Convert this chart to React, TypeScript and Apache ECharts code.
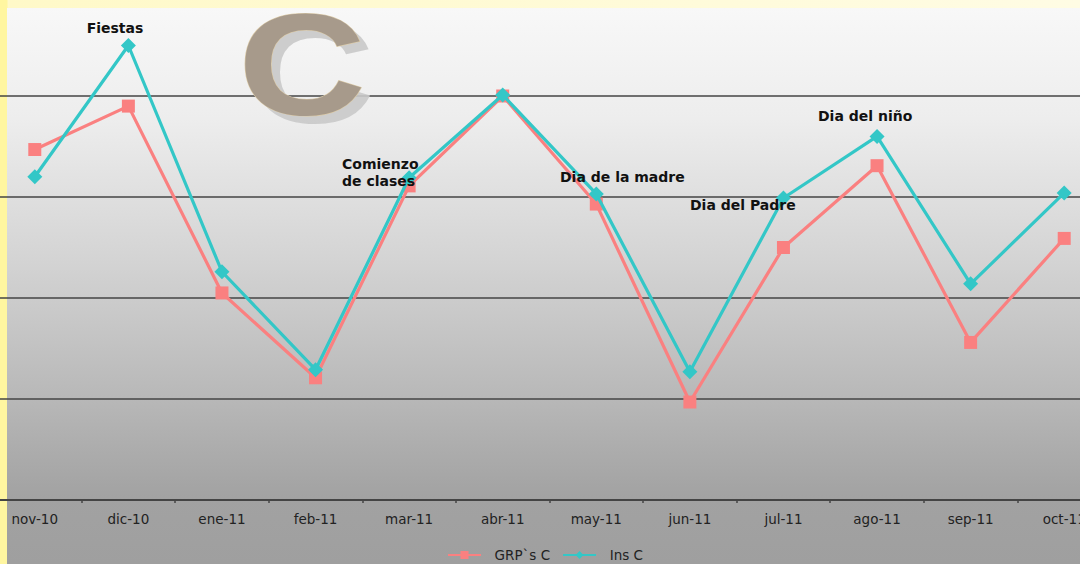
import React, { useEffect, useRef } from "react";
import * as echarts from "echarts";

// Months shown on the category axis
const months = [
  "nov-10", "dic-10", "ene-11", "feb-11", "mar-11", "abr-11",
  "may-11", "jun-11", "jul-11", "ago-11", "sep-11", "oct-11",
];

// GRP`s C per month
const grpValues = [347, 390, 205, 121, 311, 400, 293, 97, 250, 331, 156, 259];

// Ins C per month
const insValues = [320, 450, 226, 129, 319, 401, 303, 127, 299, 360, 214, 304];

const seriesNames = ["GRP`s C", "Ins C"];

// The plot runs slightly past the visible frame on the left, right and top,
// so the chart canvas is offset by this much from the page.
const OX = 12;
const OY = 5;
const CHART_W = 1123;
const CHART_H = 569;

export default function App() {
  const ref = useRef<HTMLDivElement>(null);

  useEffect(() => {
    document.body.style.margin = "0";
    if (!ref.current) return;
    const chart = echarts.init(ref.current, null, { renderer: "svg" });

    const annotationStyle = {
      fontFamily: "DejaVu Sans",
      fontWeight: "bold" as const,
      fontSize: 14,
      fill: "#111",
      verticalAlign: "middle" as const,
    };

    const badgeStyle = {
      text: "C",
      fontFamily: "Liberation Sans",
      fontWeight: "bold" as const,
      fontSize: 144,
      textAlign: "center" as const,
      verticalAlign: "middle" as const,
    };

    chart.setOption({
      animation: false,
      backgroundColor: "transparent",
      grid: { left: 0, right: 0, top: 0, bottom: 64, containLabel: false },
      xAxis: {
        type: "category",
        data: months,
        boundaryGap: true,
        axisLine: { lineStyle: { color: "#444", width: 2 } },
        axisTick: { show: true, length: 3, lineStyle: { color: "#444", width: 1.5 } },
        axisLabel: {
          color: "#222",
          fontFamily: "DejaVu Sans",
          fontSize: 13.5,
          margin: 12,
        },
      },
      yAxis: {
        type: "value",
        min: 0,
        max: 500,
        interval: 100,
        axisLine: { show: false },
        axisTick: { show: false },
        axisLabel: { show: false },
        splitLine: { lineStyle: { color: "#444", width: 1.5 } },
      },
      legend: {
        data: seriesNames,
        left: 447 + OX,
        top: 548 + OY,
        padding: 0,
        itemWidth: 33,
        itemHeight: 10,
        itemGap: 12,
        formatter: (name: string) => "  " + name,
        textStyle: {
          color: "#222",
          fontFamily: "DejaVu Sans",
          fontSize: 13.5,
        },
      },
      series: [
        {
          name: seriesNames[0],
          type: "line",
          data: grpValues,
          symbol: "rect",
          symbolSize: 13,
          color: "#fa8080",
          lineStyle: { width: 3.2, color: "#fa8080" },
          itemStyle: { color: "#fa8080" },
          z: 3,
        },
        {
          name: seriesNames[1],
          type: "line",
          data: insValues,
          symbol: "diamond",
          symbolSize: 15,
          color: "#33c7c7",
          lineStyle: { width: 3.2, color: "#33c7c7" },
          itemStyle: { color: "#33c7c7" },
          z: 4,
        },
      ],
      graphic: [
        // shadow of the "C" badge
        {
          type: "text",
          x: 311 + OX,
          y: 73 + OY,
          scaleX: 1.23,
          z: 1,
          style: { ...badgeStyle, fill: "#c9c9c9", opacity: 0.9 },
        },
        // stone-coloured "C" badge
        {
          type: "text",
          x: 302 + OX,
          y: 65 + OY,
          scaleX: 1.23,
          z: 2,
          style: { ...badgeStyle, fill: "#a79a8b", stroke: "#dccba8", lineWidth: 1 },
        },
        {
          type: "text",
          x: 115 + OX,
          y: 28 + OY,
          z: 10,
          style: { ...annotationStyle, text: "Fiestas", textAlign: "center" },
        },
        {
          type: "text",
          x: 342 + OX,
          y: 172 + OY,
          z: 10,
          style: { ...annotationStyle, text: "Comienzo\nde clases", lineHeight: 17, textAlign: "left" },
        },
        {
          type: "text",
          x: 560 + OX,
          y: 177 + OY,
          z: 10,
          style: { ...annotationStyle, text: "Dia de la madre", textAlign: "left" },
        },
        {
          type: "text",
          x: 690 + OX,
          y: 205 + OY,
          z: 10,
          style: { ...annotationStyle, text: "Dia del Padre", textAlign: "left" },
        },
        {
          type: "text",
          x: 818 + OX,
          y: 116 + OY,
          z: 10,
          style: { ...annotationStyle, text: "Dia del niño", textAlign: "left" },
        },
      ],
    });

    return () => chart.dispose();
  }, []);

  return (
    <div
      style={{
        position: "fixed",
        left: 0,
        top: 0,
        width: 1080,
        height: 564,
        overflow: "hidden",
        background: "linear-gradient(to right, #fff6a0 0px, #fff6a0 7px, #fff9c8 8px, #fffce4 100%)",
      }}
    >
      <div
        style={{
          position: "absolute",
          left: 7,
          top: 8,
          right: 0,
          bottom: 0,
          background:
            "linear-gradient(to bottom, #f8f8f8 0%, #ededed 20%, #d4d4d4 45%, #b8b8b8 70%, #a2a2a2 88%, #9f9f9f 100%)",
        }}
      />
      <div
        ref={ref}
        style={{ position: "absolute", left: -OX, top: -OY, width: CHART_W, height: CHART_H }}
      />
    </div>
  );
}
